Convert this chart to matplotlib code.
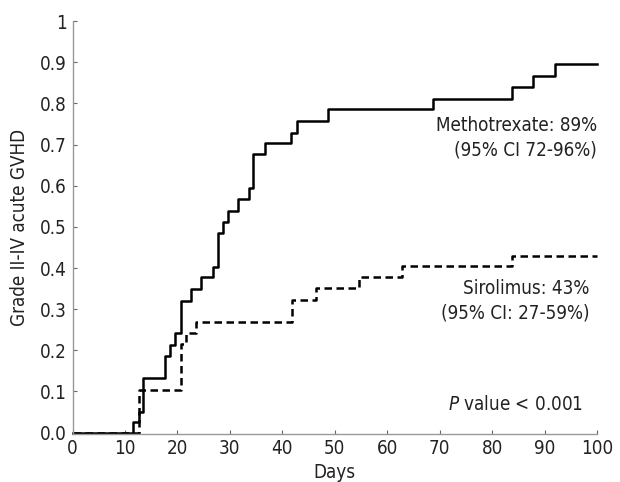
import matplotlib
matplotlib.use("Agg")
import matplotlib.pyplot as plt

plt.rcParams['font.family'] = ['DejaVu Sans']
plt.rcParams['font.stretch'] = 'condensed'

# cumulative incidence step data
mtx_days = [0, 11.6, 12.6, 13.5, 17.7, 18.6, 19.6, 20.7, 22.5, 24.5, 26.8, 27.7,
            28.6, 29.6, 31.5, 33.6, 34.5, 36.6, 41.7, 42.7, 48.7, 68.8, 83.8,
            87.8, 92.0, 100]
mtx_vals = [0, 0.026, 0.051, 0.133, 0.185, 0.212, 0.242, 0.321, 0.350, 0.377,
            0.402, 0.486, 0.512, 0.539, 0.569, 0.595, 0.677, 0.705, 0.729,
            0.757, 0.786, 0.812, 0.839, 0.866, 0.895, 0.895]

siro_days = [0, 12.7, 20.7, 21.6, 23.6, 41.9, 46.5, 54.7, 62.9, 83.8, 100]
siro_vals = [0, 0.104, 0.215, 0.242, 0.268, 0.322, 0.351, 0.377, 0.404, 0.430, 0.430]

yticks = [0, 0.1, 0.2, 0.3, 0.4, 0.5, 0.6, 0.7, 0.8, 0.9, 1]
ylabels = ['0.0', '0.1', '0.2', '0.3', '0.4', '0.5', '0.6', '0.7', '0.8', '0.9', '1']
xticks = [0, 10, 20, 30, 40, 50, 60, 70, 80, 90, 100]

fig = plt.figure(figsize=(6.2, 4.82), dpi=100)
ax = fig.add_axes([0.117, 0.100, 0.846, 0.856])

ax.step(mtx_days, mtx_vals, where='post', color='black', lw=1.8, clip_on=False)
ax.step(siro_days, siro_vals, where='post', color='black', lw=1.8,
        dashes=(3.0, 1.8), clip_on=False)

ax.set_xlim(0, 100)
ax.set_ylim(-0.003, 1)
ax.set_xticks(xticks)
ax.set_yticks(yticks)
ax.set_yticklabels(ylabels)

for side in ['top', 'right']:
    ax.spines[side].set_visible(False)
for side in ['left', 'bottom']:
    ax.spines[side].set_color('#999999')
    ax.spines[side].set_linewidth(1.0)
ax.tick_params(direction='in', length=3, width=0.8, color='#666666',
               labelsize=13.5, labelcolor='#222222', pad=4)

ax.set_xlabel('Days', fontsize=13.5, color='#222222', labelpad=3)
ax.set_ylabel('Grade II-IV acute GVHD', fontsize=13.5, color='#222222', labelpad=8)

ax.text(100, 0.717, 'Methotrexate: 89%\n(95% CI 72-96%)', ha='right', va='center',
        fontsize=13.5, color='#222222', linespacing=1.35)
ax.text(98.5, 0.320, 'Sirolimus: 43%\n(95% CI: 27-59%)', ha='right', va='center',
        fontsize=13.5, color='#222222', linespacing=1.35)
ax.text(97.3, 0.068, r'$\it{P}$ value < 0.001', ha='right', va='center',
        fontsize=13.5, color='#222222')

fig.savefig('out.png', dpi=100)
